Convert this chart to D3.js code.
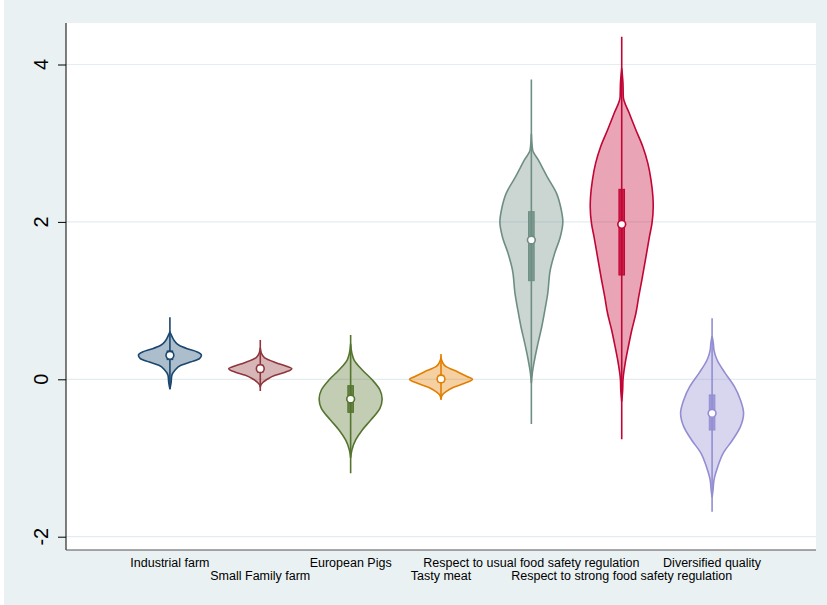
<!DOCTYPE html>
<html>
<head>
<meta charset="utf-8">
<script src="https://cdnjs.cloudflare.com/ajax/libs/d3/7.8.5/d3.min.js"></script>
<style>
  body { margin: 0; background: #ffffff; }
  text { font-family: "Liberation Sans", Arial, sans-serif; }
</style>
</head>
<body>
<div id="chart"></div>
<script>
/* Violin plot of preference scores by attribute (Stata s2color look) */

// Categories along the x axis
const categories = [
  'Industrial farm',
  'Small Family farm',
  'European Pigs',
  'Tasty meat',
  'Respect to usual food safety regulation',
  'Respect to strong food safety regulation',
  'Diversified quality'
];

// Box summaries
const medians      = [0.305, 0.135, -0.25, 0.004, 1.77, 1.969, -0.432];
const q1           = [0.25, 0.09, -0.42, -0.04, 1.253, 1.325, -0.644];
const q3           = [0.36, 0.18, -0.081, 0.05, 2.13, 2.414, -0.199];
const whiskerLow   = [-0.127, -0.149, -1.194, -0.263, -0.568, -0.762, -1.682];
const whiskerHigh  = [0.79, 0.50, 0.563, 0.32, 3.81, 4.353, 0.775];

// Density outlines: [value, relative density]
const densIndustrial = [[0.60, 0], [0.559, 0.05], [0.496, 0.13], [0.432, 0.29], [0.389, 0.55], [0.347, 0.87], [0.305, 1], [0.262, 0.94], [0.220, 0.65], [0.178, 0.35], [0.114, 0.16], [0.051, 0.06], [-0.05, 0.035], [-0.125, 0]];
const densSmallFarm = [[0.40, 0], [0.338, 0.03], [0.275, 0.13], [0.211, 0.5], [0.169, 0.81], [0.135, 1], [0.093, 0.81], [0.051, 0.47], [0.0, 0.22], [-0.064, 0.03], [-0.10, 0]];
const densEuroPigs = [[0.45, 0], [0.33, 0.04], [0.245, 0.11], [0.118, 0.37], [-0.009, 0.69], [-0.136, 0.93], [-0.25, 1], [-0.369, 0.93], [-0.517, 0.64], [-0.644, 0.37], [-0.771, 0.16], [-0.898, 0.04], [-1.0, 0]];
const densTasty = [[0.27, 0], [0.224, 0.04], [0.160, 0.16], [0.097, 0.52], [0.033, 0.84], [0.0, 1], [-0.051, 0.75], [-0.102, 0.4], [-0.157, 0.16], [-0.2, 0.04], [-0.25, 0]];
const densUsual = [[3.12, 0], [2.914, 0.04], [2.787, 0.22], [2.575, 0.5], [2.363, 0.8], [2.151, 0.95], [2.003, 1], [1.812, 0.92], [1.601, 0.74], [1.389, 0.6], [1.093, 0.52], [0.881, 0.43], [0.668, 0.33], [0.457, 0.21], [0.245, 0.1], [0.076, 0.03], [-0.05, 0]];
const densStrong = [[3.95, 0], [3.76, 0.04], [3.591, 0.05], [3.380, 0.24], [3.168, 0.45], [2.956, 0.67], [2.744, 0.83], [2.532, 0.93], [2.320, 0.99], [2.193, 1], [1.982, 0.96], [1.812, 0.88], [1.558, 0.77], [1.262, 0.64], [1.050, 0.54], [0.839, 0.45], [0.626, 0.32], [0.414, 0.21], [0.203, 0.11], [-0.009, 0.04], [-0.136, 0.03], [-0.28, 0]];
const densDiversified = [[0.55, 0], [0.457, 0.04], [0.372, 0.06], [0.245, 0.16], [0.076, 0.42], [-0.094, 0.71], [-0.263, 0.9], [-0.432, 1], [-0.602, 0.9], [-0.771, 0.65], [-0.940, 0.35], [-1.111, 0.18], [-1.280, 0.06], [-1.407, 0.03], [-1.5, 0]];

const densities = [densIndustrial, densSmallFarm, densEuroPigs, densTasty, densUsual, densStrong, densDiversified];

// Y tick values
const yTicks = [-2, 0, 2, 4];

// Stata s2color series colours
const colors = ['#1a476f', '#90353b', '#55752f', '#e37e00', '#6e8e84', '#c10534', '#938dd2'];

const width = 827, height = 605;
const plot = { left: 66, right: 816, top: 23, bottom: 550 };

const svg = d3.select('#chart')
  .append('svg')
  .attr('width', width)
  .attr('height', height);

// Outer background and white plot region
svg.append('rect').attr('x', 0).attr('y', 0).attr('width', width).attr('height', height).attr('fill', '#ffffff');
svg.append('rect').attr('x', 4).attr('y', 0).attr('width', width - 4).attr('height', height).attr('fill', '#eaf1f3');
svg.append('rect')
  .attr('x', plot.left).attr('y', plot.top)
  .attr('width', plot.right - plot.left).attr('height', plot.bottom - plot.top)
  .attr('fill', '#ffffff');

// Scales
const y = d3.scaleLinear().domain([-2, 4]).range([536.7, 64.5]);
const x = d3.scalePoint().domain(categories).range([plot.left, plot.right]).padding(1.15);
const w = d3.scaleLinear().domain([0, 1]).range([0, 31.5]);

// Grid lines
svg.append('g')
  .selectAll('line')
  .data(yTicks)
  .enter()
  .append('line')
  .attr('x1', plot.left).attr('x2', plot.right)
  .attr('y1', d => y(d)).attr('y2', d => y(d))
  .attr('stroke', '#e3ecef')
  .attr('stroke-width', 1.2);

// Y axis: ticks from d3.axisLeft, labels drawn rotated like Stata
const yAxis = svg.append('g')
  .attr('transform', `translate(${plot.left},0)`)
  .call(d3.axisLeft(y).tickValues(yTicks).tickSize(8).tickFormat(''));
yAxis.select('.domain').remove();
yAxis.selectAll('.tick line').attr('stroke', '#000');

svg.append('g')
  .selectAll('text')
  .data(yTicks)
  .enter()
  .append('text')
  .attr('transform', d => `translate(41,${y(d)}) rotate(-90)`)
  .attr('text-anchor', 'middle')
  .attr('dy', '0.36em')
  .attr('font-size', 20)
  .attr('fill', '#000')
  .text(d => d);

svg.append('line')
  .attr('x1', plot.left).attr('x2', plot.left)
  .attr('y1', plot.top).attr('y2', plot.bottom)
  .attr('stroke', '#000').attr('stroke-width', 1);

// X axis line and staggered labels
svg.append('line')
  .attr('x1', plot.left).attr('x2', plot.right)
  .attr('y1', plot.bottom).attr('y2', plot.bottom)
  .attr('stroke', '#555').attr('stroke-width', 1.2);
svg.append('g')
  .selectAll('text')
  .data(categories)
  .enter()
  .append('text')
  .attr('x', d => x(d))
  .attr('y', (d, i) => i % 2 === 0 ? 567 : 580)
  .attr('text-anchor', 'middle')
  .attr('font-size', 12.5)
  .attr('fill', '#000')
  .text(d => d);

// Violins
const violin = svg.append('g')
  .selectAll('g')
  .data(categories)
  .enter()
  .append('g');

violin.append('path')
  .attr('d', (c, i) => d3.area()
    .curve(d3.curveMonotoneY)
    .y(d => y(d[0]))
    .x0(d => x(c) - w(d[1]))
    .x1(d => x(c) + w(d[1]))(densities[i]))
  .attr('fill', (c, i) => colors[i])
  .attr('fill-opacity', 0.36)
  .attr('stroke', (c, i) => colors[i])
  .attr('stroke-width', 1.6);

// Whisker lines
violin.append('line')
  .attr('x1', c => x(c)).attr('x2', c => x(c))
  .attr('y1', (c, i) => y(whiskerHigh[i]))
  .attr('y2', (c, i) => y(whiskerLow[i]))
  .attr('stroke', (c, i) => colors[i])
  .attr('stroke-width', 1.6);

// Interquartile boxes
violin.append('rect')
  .attr('x', c => x(c) - 2.8)
  .attr('width', 5.6)
  .attr('y', (c, i) => y(q3[i]))
  .attr('height', (c, i) => y(q1[i]) - y(q3[i]))
  .attr('fill', (c, i) => colors[i])
  .attr('fill-opacity', 0.85)
  .attr('stroke', (c, i) => colors[i])
  .attr('stroke-width', 1);

// Median markers
violin.append('circle')
  .attr('cx', c => x(c))
  .attr('cy', (c, i) => y(medians[i]))
  .attr('r', 3.9)
  .attr('fill', '#ffffff')
  .attr('stroke', (c, i) => colors[i])
  .attr('stroke-width', 1.6);
</script>
</body>
</html>
